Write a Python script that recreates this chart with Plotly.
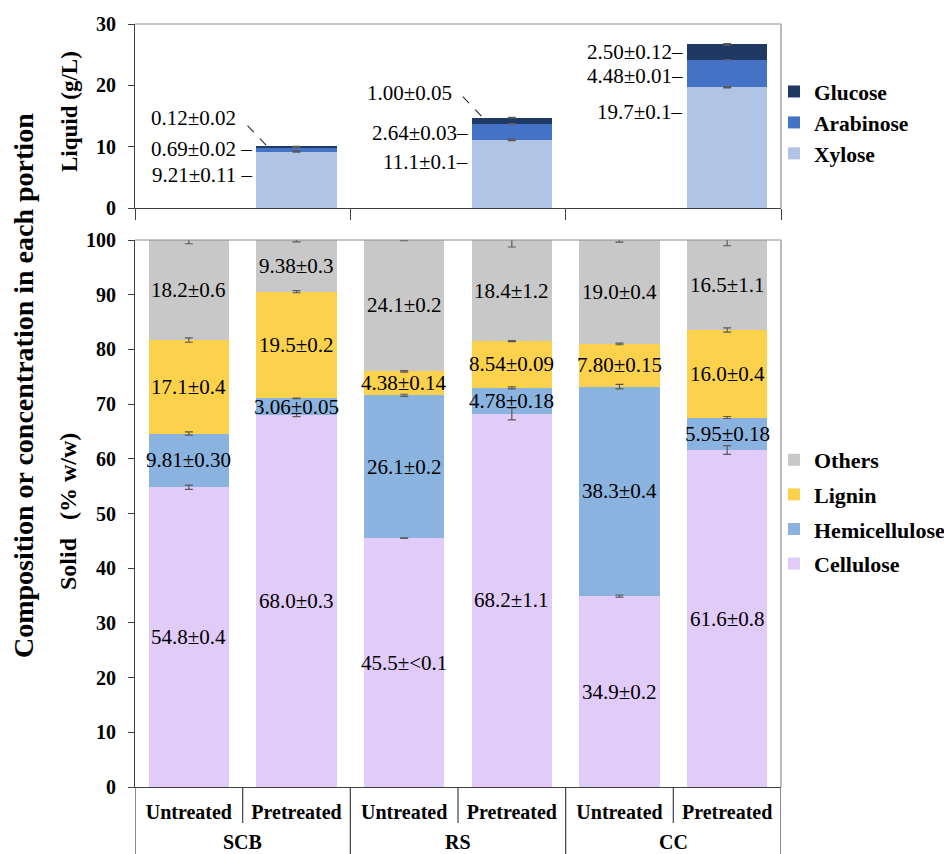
import plotly.graph_objects as go

# ---------------- data ----------------
groups = ["SCB", "RS", "CC"]
treatments = ["Untreated", "Pretreated"]

# Solid composition (% w/w): SCB-U, SCB-P, RS-U, RS-P, CC-U, CC-P
cellulose = [54.8, 68.0, 45.5, 68.2, 34.9, 61.6]
cellulose_err = [0.4, 0.3, 0.05, 1.1, 0.2, 0.8]
cellulose_lbl = ["54.8±0.4", "68.0±0.3", "45.5±<0.1", "68.2±1.1", "34.9±0.2", "61.6±0.8"]

hemicellulose = [9.81, 3.06, 26.1, 4.78, 38.3, 5.95]
hemicellulose_err = [0.30, 0.05, 0.2, 0.18, 0.4, 0.18]
hemicellulose_lbl = ["9.81±0.30", "3.06±0.05", "26.1±0.2", "4.78±0.18", "38.3±0.4", "5.95±0.18"]

lignin = [17.1, 19.5, 4.38, 8.54, 7.80, 16.0]
lignin_err = [0.4, 0.2, 0.14, 0.09, 0.15, 0.4]
lignin_lbl = ["17.1±0.4", "19.5±0.2", "4.38±0.14", "8.54±0.09", "7.80±0.15", "16.0±0.4"]

others = [18.2, 9.38, 24.1, 18.4, 19.0, 16.5]
others_err = [0.6, 0.3, 0.2, 1.2, 0.4, 1.1]
others_lbl = ["18.2±0.6", "9.38±0.3", "24.1±0.2", "18.4±1.2", "19.0±0.4", "16.5±1.1"]

# Liquid concentration (g/L), pretreated only: SCB, RS, CC
xylose = [9.21, 11.1, 19.7]
xylose_err = [0.11, 0.1, 0.1]
xylose_lbl = ["9.21±0.11", "11.1±0.1", "19.7±0.1"]

arabinose = [0.69, 2.64, 4.48]
arabinose_err = [0.02, 0.03, 0.01]
arabinose_lbl = ["0.69±0.02", "2.64±0.03", "4.48±0.01"]

glucose = [0.12, 1.00, 2.50]
glucose_err = [0.02, 0.05, 0.12]
glucose_lbl = ["0.12±0.02", "1.00±0.05", "2.50±0.12"]

# ---------------- styles ----------------
SERIF = "Liberation Serif, Times New Roman, serif"
C_CELL, C_HEMI, C_LIG, C_OTH = "#E1CBF9", "#8AB4DF", "#FCD24C", "#C8C8C8"
C_XYL, C_ARA, C_GLU = "#B0C4E6", "#4472C4", "#1F3864"
ERR_COLOR = "#595959"
AX_COLOR = "#404040"
FRAME_COLOR = "#8C8C8C"
BAR_W = 0.744

# page offset (body margin) and layout geometry in page pixels
OFF = 8
W, H = 952, 854
PLOT_L, PLOT_R, PLOT_T, PLOT_B = 135, 781, 24, 787
L = PLOT_L - OFF
T = PLOT_T - OFF
R = W - (PLOT_R - OFF)
B = H - (PLOT_B - OFF)
pw, ph = W - L - R, H - T - B


def px_x(xp):  # page px -> paper x
    return (xp - OFF - L) / pw


def px_y(yp):  # page px -> paper y
    return (H - B - (yp - OFF)) / ph


# label placement tweaks for the liquid panel (pixels)
liq_yshift = {"Glucose": [29, 28, 0], "Arabinose": [0, -1, -3], "Xylose": [5, 12, 36]}
liq_leader = {"Glucose": [True, True, False], "Arabinose": [False] * 3, "Xylose": [False] * 3}
liq_suffix = [" –", "–", "–"]

n_cat = len(groups) * len(treatments)
x_solid = list(range(n_cat))
tick_text = [t for g in groups for t in treatments]
x_liq = [gi * len(treatments) + treatments.index("Pretreated") for gi in range(len(groups))]

fig = go.Figure()

# ---------------- solid panel ----------------
solid_series = [
    ("Cellulose", cellulose, cellulose_err, cellulose_lbl, C_CELL),
    ("Hemicellulose", hemicellulose, hemicellulose_err, hemicellulose_lbl, C_HEMI),
    ("Lignin", lignin, lignin_err, lignin_lbl, C_LIG),
    ("Others", others, others_err, others_lbl, C_OTH),
]
annotations = []
base = [0.0] * n_cat
err_x, err_y, err_v = [], [], []
for si, (name, vals, errs, lbls, col) in enumerate(solid_series):
    fig.add_trace(go.Bar(
        x=x_solid, y=vals, name=name, marker=dict(color=col, line=dict(width=0)),
        width=BAR_W, xaxis="x", yaxis="y", legend="legend", legendgroup=name,
        legendrank=len(solid_series) - si,
    ))
    for i, (v, e, lb) in enumerate(zip(vals, errs, lbls)):
        annotations.append(dict(
            x=x_solid[i], y=base[i] + v / 2, xref="x", yref="y", text=lb, showarrow=False,
            font=dict(family=SERIF, size=21, color="black"),
        ))
        err_x.append(x_solid[i]); err_y.append(base[i] + v); err_v.append(e)
    base = [b + v for b, v in zip(base, vals)]

fig.add_trace(go.Scatter(
    x=err_x, y=err_y, mode="markers", marker=dict(size=0.1, color="rgba(0,0,0,0)"),
    error_y=dict(type="data", array=err_v, visible=True, color=ERR_COLOR, thickness=1.2, width=4),
    xaxis="x", yaxis="y", showlegend=False, hoverinfo="skip",
))

# ---------------- liquid panel ----------------
liq_series = [
    ("Xylose", xylose, xylose_err, xylose_lbl, C_XYL),
    ("Arabinose", arabinose, arabinose_err, arabinose_lbl, C_ARA),
    ("Glucose", glucose, glucose_err, glucose_lbl, C_GLU),
]
shapes = []
lbase = [0.0] * len(groups)
lerr_x, lerr_y, lerr_v = [], [], []
for si, (name, vals, errs, lbls, col) in enumerate(liq_series):
    fig.add_trace(go.Bar(
        x=x_liq, y=vals, name=name, marker=dict(color=col, line=dict(width=0)),
        width=BAR_W, xaxis="x2", yaxis="y2", legend="legend2", legendgroup=name,
        legendrank=len(liq_series) - si,
    ))
    for i, (v, e, lb) in enumerate(zip(vals, errs, lbls)):
        lead = liq_leader[name][i]
        annotations.append(dict(
            x=x_liq[i] - BAR_W / 2, y=lbase[i] + v / 2, xref="x2", yref="y2",
            text=lb if lead else lb + liq_suffix[i], showarrow=False,
            xanchor="right", xshift=(-18 if lead else -2), yshift=liq_yshift[name][i],
            font=dict(family=SERIF, size=21, color="black"),
        ))
        if lead:
            shapes.append(dict(
                type="line", xref="x2", yref="y2", xsizemode="pixel", ysizemode="pixel",
                xanchor=x_liq[i], yanchor=lbase[i] + v, x0=-49, x1=-30, y0=21, y1=1,
                line=dict(color="#333333", width=1.2, dash="dash"),
            ))
        lerr_x.append(x_liq[i]); lerr_y.append(lbase[i] + v); lerr_v.append(e)
    lbase = [b + v for b, v in zip(lbase, vals)]

fig.add_trace(go.Scatter(
    x=lerr_x, y=lerr_y, mode="markers", marker=dict(size=0.1, color="rgba(0,0,0,0)"),
    error_y=dict(type="data", array=lerr_v, visible=True, color=ERR_COLOR, thickness=1.2, width=4),
    xaxis="x2", yaxis="y2", showlegend=False, hoverinfo="skip",
))

# ---------------- frames and category dividers ----------------
for yr in ["y", "y2"]:
    xr = "x" if yr == "y" else "x2"
    shapes.append(dict(type="line", xref=f"{xr} domain", yref=f"{yr} domain",
                       x0=0, x1=1, y0=1, y1=1, line=dict(color=FRAME_COLOR, width=1.2)))
    shapes.append(dict(type="line", xref=f"{xr} domain", yref=f"{yr} domain",
                       x0=1, x1=1, y0=0, y1=1, line=dict(color=FRAME_COLOR, width=1.2)))

k = len(treatments)
for gi in range(len(groups) + 1):
    shapes.append(dict(type="line", xref="x", yref="paper", x0=gi * k - 0.5, x1=gi * k - 0.5,
                       y0=0, y1=-0.12, line=dict(color=AX_COLOR, width=1.2)))
for gi in range(len(groups)):
    for t in range(1, k):
        xv = gi * k + t - 0.5
        shapes.append(dict(type="line", xref="x", yref="paper", x0=xv, x1=xv,
                           y0=0, y1=px_y(823), line=dict(color=AX_COLOR, width=1.2)))
    annotations.append(dict(
        x=gi * k + (k - 1) / 2, y=px_y(829), xref="x", yref="paper", yanchor="top",
        text=groups[gi], showarrow=False,
        font=dict(family=SERIF, size=20, color="black", weight="bold"),
    ))

# axis titles (positions in page px)
annotations += [
    dict(x=px_x(70), y=px_y(112), xref="paper", yref="paper", text="Liquid (g/L)",
         textangle=-90, xanchor="center", yanchor="middle", showarrow=False,
         font=dict(family=SERIF, size=23, color="black", weight="bold")),
    dict(x=px_x(68), y=px_y(512), xref="paper", yref="paper",
         text="Solid\u00a0\u00a0\u00a0(%\u00a0w/w)",
         textangle=-90, xanchor="center", yanchor="middle", showarrow=False,
         font=dict(family=SERIF, size=24, color="black", weight="bold")),
    dict(x=px_x(23), y=px_y(386), xref="paper", yref="paper",
         text="Composition or concentration in each portion", textangle=-90,
         xanchor="center", yanchor="middle", showarrow=False,
         font=dict(family=SERIF, size=28, color="black", weight="bold")),
]

dom_top = [px_y(208), 1.0]
dom_bot = [0.0, px_y(240)]

tickfont = dict(family=SERIF, size=20, color="black", weight="bold")
legfont = dict(family=SERIF, size=22, color="black", weight="bold")
legfont2 = dict(family=SERIF, size=21.5, color="black", weight="bold")

fig.update_layout(
    template="none",
    width=W, height=H,
    margin=dict(l=L, r=R, t=T, b=B, pad=0, autoexpand=False),
    paper_bgcolor="white", plot_bgcolor="white",
    barmode="stack", bargap=0,
    showlegend=True,
    xaxis=dict(domain=[0, 1], anchor="y", range=[-0.5, n_cat - 0.5], tickmode="array",
               tickvals=x_solid, ticktext=tick_text, ticks="", showline=True,
               linecolor=AX_COLOR, linewidth=1.2, showgrid=False, zeroline=False,
               tickfont=tickfont, ticklabelstandoff=7, automargin=False),
    yaxis=dict(domain=dom_bot, anchor="x", range=[0, 100], tickmode="linear", tick0=0, dtick=10,
               ticks="outside", ticklen=6, tickcolor=AX_COLOR, showline=True,
               linecolor=AX_COLOR, linewidth=1.2, showgrid=False, zeroline=False,
               tickfont=tickfont, ticklabelstandoff=8, automargin=False),
    xaxis2=dict(domain=[0, 1], anchor="y2", range=[-0.5, n_cat - 0.5], tickmode="array",
                tickvals=[gi * k - 0.5 for gi in range(len(groups) + 1)],
                showticklabels=False, ticks="outside", ticklen=11, tickcolor=AX_COLOR,
                showline=True, linecolor=AX_COLOR, linewidth=1.2, showgrid=False,
                zeroline=False, automargin=False),
    yaxis2=dict(domain=dom_top, anchor="x2", range=[0, 30], tickmode="linear", tick0=0, dtick=10,
                ticks="outside", ticklen=6, tickcolor=AX_COLOR, showline=True,
                linecolor=AX_COLOR, linewidth=1.2, showgrid=False, zeroline=False,
                tickfont=tickfont, ticklabelstandoff=8, automargin=False),
    legend=dict(x=px_x(774), y=px_y(439), xanchor="left", yanchor="top",
                font=legfont, traceorder="grouped", tracegroupgap=3,
                bgcolor="rgba(0,0,0,0)", borderwidth=0),
    legend2=dict(x=px_x(774), y=px_y(71), xanchor="left", yanchor="top",
                 font=legfont2, traceorder="grouped", tracegroupgap=0,
                 bgcolor="rgba(0,0,0,0)", borderwidth=0),
    annotations=annotations,
    shapes=shapes,
)

fig.write_html("out.html")
